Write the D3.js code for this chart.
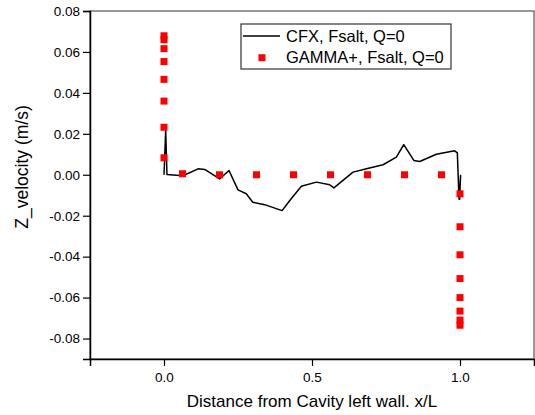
<!DOCTYPE html>
<html>
<head>
<meta charset="utf-8">
<script src="https://cdn.jsdelivr.net/npm/d3@7"></script>
<style>
  body { margin: 0; background: #fff; }
  svg { display: block; font-family: "Liberation Sans", Arial, sans-serif; }
</style>
</head>
<body>
<svg width="535" height="415"></svg>
<script>
// CFX line (x/L, Z velocity)
const cfxX = [0.0, 0.0057, 0.010, 0.064, 0.115, 0.1375, 0.188, 0.2196, 0.25, 0.278, 0.30, 0.34, 0.399,
  0.425, 0.464, 0.515, 0.56, 0.574, 0.6385, 0.684, 0.74, 0.785, 0.81, 0.844, 0.864, 0.92, 0.982, 0.991,
  0.9966, 1.002, 0.9986];
const cfxY = [0.0, 0.0217, 0.0001, -0.0005, 0.0029, 0.0026, -0.002, 0.0021, -0.0074, -0.0093, -0.0134,
  -0.0146, -0.0175, -0.0126, -0.0056, -0.0036, -0.0049, -0.0064, 0.0013, 0.0029, 0.0049, 0.0086, 0.0147,
  0.007, 0.0065, 0.01, 0.0117, 0.0107, -0.0118, -0.0003, -0.0123];

// GAMMA+ points
const gammaX = [0, 0, 0, 0, 0, 0, 0, 0,
  0.0625, 0.1875, 0.3125, 0.4375, 0.5625, 0.6875, 0.8125, 0.9375,
  1, 1, 1, 1, 1, 1, 1, 1];
const gammaY = [0.0679, 0.0660, 0.0616, 0.0553, 0.0466, 0.036, 0.0232, 0.0083,
  0.0005, 0, 0, 0, 0, 0, 0, 0,
  -0.0093, -0.0254, -0.0391, -0.0507, -0.060, -0.0666, -0.071, -0.0735];

const xMajor = [0, 0.5, 1.0];
const xMinor = [-0.25, 0.25, 0.75, 1.25];
const yMajor = [-0.08, -0.06, -0.04, -0.02, 0, 0.02, 0.04, 0.06, 0.08];
const yMinor = [-0.09, -0.07, -0.05, -0.03, -0.01, 0.01, 0.03, 0.05, 0.07];

const legendLabels = ["CFX, Fsalt, Q=0", "GAMMA+, Fsalt, Q=0"];
const x_label = "Distance from Cavity left wall. x/L";
const y_label = "Z_velocity (m/s)";

const margin = { left: 90, right: 1, top: 11, bottom: 56 };
const width = 535;
const height = 415;

const svg = d3.select("svg");

const x_scale = d3.scaleLinear().domain([-0.25, 1.25]).range([margin.left, width - margin.right]);
const y_scale = d3.scaleLinear().domain([-0.09, 0.08]).range([height - margin.bottom, margin.top]);

// frame top / right
svg.append("rect")
  .attr("x", margin.left)
  .attr("y", margin.top)
  .attr("width", width - margin.right - margin.left)
  .attr("height", height - margin.bottom - margin.top)
  .attr("fill", "none")
  .attr("stroke", "#333")
  .attr("stroke-width", 1);

// axes
const x_axis = d3.axisBottom(x_scale).tickValues(xMajor).tickSize(7).tickPadding(6)
  .tickFormat((d) => d.toFixed(1));
const x_minor = d3.axisBottom(x_scale).tickValues(xMinor).tickSize(4).tickFormat("");
const y_axis = d3.axisLeft(y_scale).tickValues(yMajor).tickSize(7).tickPadding(3)
  .tickFormat((d) => d.toFixed(2));
const y_minor = d3.axisLeft(y_scale).tickValues(yMinor).tickSize(4).tickFormat("");

const gx = svg.append("g").attr("transform", `translate(0,${height - margin.bottom})`);
gx.call(x_minor);
gx.call(x_axis);
const gy = svg.append("g").attr("transform", `translate(${margin.left},0)`);
gy.call(y_minor);
gy.call(y_axis);

svg.selectAll(".domain").attr("stroke", "#000").attr("stroke-width", 1.5);
svg.selectAll(".tick line").attr("stroke", "#000").attr("stroke-width", 1.2);
svg.selectAll(".tick text")
  .style("font-family", "'Liberation Sans', Arial, sans-serif")
  .style("font-size", "13.5px")
  .attr("fill", "#000");

// CFX line
const cfxData = cfxX.map((x, i) => ({ x, y: cfxY[i] }));
const line_generator = d3.line()
  .x((d) => x_scale(d.x))
  .y((d) => y_scale(d.y));

svg.append("path")
  .datum(cfxData)
  .attr("fill", "none")
  .attr("stroke", "#000")
  .attr("stroke-width", 1.5)
  .attr("stroke-linejoin", "round")
  .attr("d", line_generator);

// GAMMA+ squares
const sq = 7;
const gammaData = gammaX.map((x, i) => ({ x, y: gammaY[i] }));
svg.append("g")
  .selectAll("rect")
  .data(gammaData)
  .join("rect")
  .attr("x", (d) => x_scale(d.x) - sq / 2)
  .attr("y", (d) => y_scale(d.y) - sq / 2)
  .attr("width", sq)
  .attr("height", sq)
  .attr("fill", "#ff0000");

// legend
const lg = svg.append("g").attr("transform", "translate(241,24)");
lg.append("rect")
  .attr("width", 210)
  .attr("height", 45)
  .attr("fill", "#fff")
  .attr("stroke", "#333")
  .attr("stroke-width", 1.2);
lg.append("line")
  .attr("x1", 2).attr("x2", 39)
  .attr("y1", 12).attr("y2", 12)
  .attr("stroke", "#000")
  .attr("stroke-width", 1.5);
lg.append("rect")
  .attr("x", 21 - sq / 2).attr("y", 33.7 - sq / 2)
  .attr("width", sq).attr("height", sq)
  .attr("fill", "#ff0000");
lg.selectAll("text.leg")
  .data(legendLabels)
  .join("text")
  .attr("class", "leg")
  .attr("x", 45)
  .attr("y", (d, i) => 12 + i * 21.7)
  .attr("dy", "0.35em")
  .style("font-size", "16.5px")
  .attr("fill", "#000")
  .text((d) => d);

// axis labels
svg.append("text")
  .attr("x", (margin.left + width - margin.right) / 2)
  .attr("y", 406.5)
  .attr("text-anchor", "middle")
  .style("font-size", "17px")
  .text(x_label);

svg.append("text")
  .attr("text-anchor", "middle")
  .attr("transform", "translate(28,167) rotate(-90)")
  .style("font-size", "17.5px")
  .text(y_label);
</script>
</body>
</html>
